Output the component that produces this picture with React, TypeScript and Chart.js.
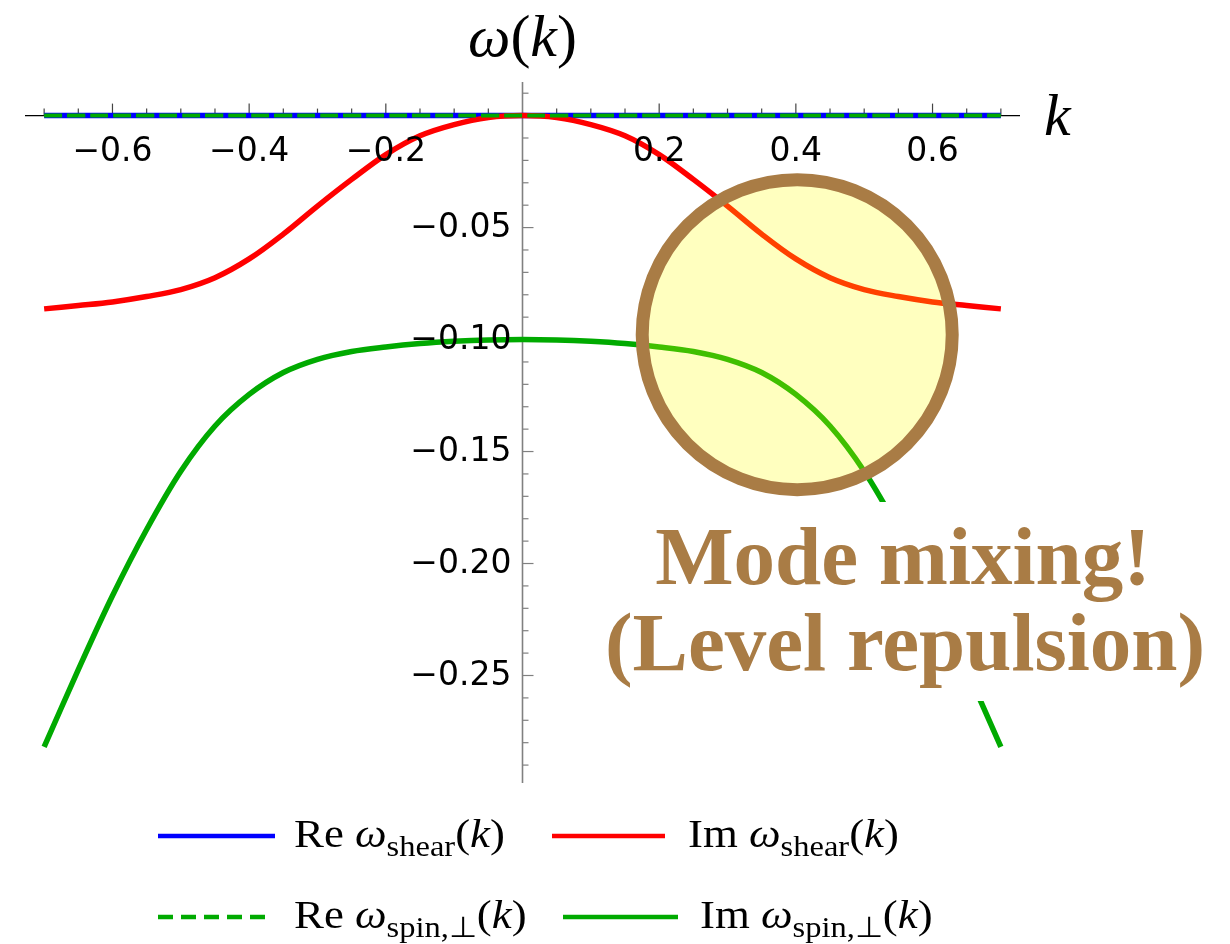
import React, { useEffect, useRef } from "react";
import { Chart, registerables } from "chart.js";

Chart.register(...registerables);

// ---------- data ----------
const kValues = [
  -0.7, -0.65, -0.6, -0.55, -0.5, -0.45, -0.4, -0.35, -0.3, -0.25, -0.2, -0.15, -0.1, -0.05, 0,
  0.05, 0.1, 0.15, 0.2, 0.25, 0.3, 0.35, 0.4, 0.45, 0.5, 0.55, 0.6, 0.65, 0.7,
];
const reShear = [
  0, 0, 0, 0, 0, 0, 0, 0, 0, 0, 0, 0, 0, 0, 0, 0, 0, 0, 0, 0, 0, 0, 0, 0, 0, 0, 0, 0, 0,
];
const imShear = [
  -0.0863, -0.0848, -0.0832, -0.0808, -0.0777, -0.0724, -0.064, -0.0529, -0.0404, -0.0285,
  -0.0174, -0.009, -0.004, -0.0009, 0, -0.0009, -0.004, -0.009, -0.0174, -0.0285, -0.0404,
  -0.0529, -0.064, -0.0724, -0.0777, -0.0808, -0.0832, -0.0848, -0.0863,
];
const reSpin = [
  0, 0, 0, 0, 0, 0, 0, 0, 0, 0, 0, 0, 0, 0, 0, 0, 0, 0, 0, 0, 0, 0, 0, 0, 0, 0, 0, 0, 0,
];
const imSpin = [
  -0.2819, -0.2474, -0.2144, -0.1848, -0.1588, -0.1386, -0.1245, -0.1147, -0.1088, -0.1053,
  -0.1033, -0.1018, -0.1008, -0.1002, -0.1, -0.1002, -0.1008, -0.1018, -0.1033, -0.1053,
  -0.1088, -0.1147, -0.1245, -0.1386, -0.1588, -0.1848, -0.2144, -0.2474, -0.2819,
];

const xTickValues = [-0.6, -0.4, -0.2, 0.2, 0.4, 0.6];
const xTickLabels = ["\u22120.6", "\u22120.4", "\u22120.2", "0.2", "0.4", "0.6"];
const yTickValues = [-0.05, -0.1, -0.15, -0.2, -0.25];
const yTickLabels = ["\u22120.05", "\u22120.10", "\u22120.15", "\u22120.20", "\u22120.25"];
const annotationLines = ["Mode mixing!", "(Level repulsion)"];
const circleCenterK = 0.402;
const circleCenterW = -0.0978;

const BLUE = "#0000FF";
const RED = "#FF0000";
const GREEN = "#00AA00";
const BROWN = "#A97C45";
const SERIF = '"Liberation Serif", "Times New Roman", serif';
const SANS = '"DejaVu Sans", Verdana, sans-serif';

type Part = [string, string, number];

function drawParts(ctx: CanvasRenderingContext2D, x: number, y: number, parts: Part[], sx = 1) {
  ctx.save();
  ctx.translate(x, y);
  ctx.scale(sx, 1);
  let cx = 0;
  for (const [t, font, dy] of parts) {
    ctx.font = font;
    ctx.fillText(t, cx, dy);
    cx += ctx.measureText(t).width;
  }
  ctx.restore();
  return x + cx * sx;
}

const MAIN = `40px ${SERIF}`;
const MAIN_I = `italic 40px ${SERIF}`;
const SUB = `29px ${SERIF}`;

function legendParts(re: boolean, sub: string): Part[] {
  return [
    [re ? "Re" : "Im", MAIN, 0],
    [" ", MAIN, 0],
    ["\u03C9", MAIN_I, 0],
    [sub, SUB, 9],
    ["(", MAIN, 0],
    ["k", MAIN_I, 0],
    [")", MAIN, 0],
  ];
}

const decorPlugin = {
  id: "decor",
  beforeDatasetsDraw(chart: any) {
    const ctx: CanvasRenderingContext2D = chart.ctx;
    const xs = chart.scales.x;
    const ys = chart.scales.y;
    const x0 = xs.getPixelForValue(0);
    const y0 = ys.getPixelForValue(0);
    ctx.save();
    // y axis
    ctx.strokeStyle = "#808080";
    ctx.lineWidth = 1.6;
    ctx.beginPath();
    ctx.moveTo(x0, ys.top);
    ctx.lineTo(x0, ys.bottom);
    ctx.stroke();
    ctx.lineWidth = 1.2;
    for (let i = -29; i <= 1; i++) {
      if (i === 0) continue;
      const y = ys.getPixelForValue(i / 100);
      const len = i % 5 === 0 ? 11 : 6;
      ctx.beginPath();
      ctx.moveTo(x0, y);
      ctx.lineTo(x0 + len, y);
      ctx.stroke();
    }
    // x axis
    ctx.strokeStyle = "#000000";
    ctx.lineWidth = 1.2;
    ctx.beginPath();
    ctx.moveTo(xs.left, y0);
    ctx.lineTo(xs.right, y0);
    ctx.stroke();
    ctx.strokeStyle = "#444444";
    for (const v of kValues) {
      if (v === 0) continue;
      const x = xs.getPixelForValue(v);
      const major = xTickValues.some((t) => Math.abs(t - v) < 1e-9);
      const len = major ? 12 : 7;
      ctx.beginPath();
      ctx.moveTo(x, y0);
      ctx.lineTo(x, y0 - len);
      ctx.stroke();
    }
    ctx.restore();
  },
  afterDatasetsDraw(chart: any) {
    const ctx: CanvasRenderingContext2D = chart.ctx;
    const xs = chart.scales.x;
    const ys = chart.scales.y;
    const x0 = xs.getPixelForValue(0);
    const y0 = ys.getPixelForValue(0);
    ctx.save();
    // tick labels
    ctx.fillStyle = "#000000";
    ctx.font = `33px ${SANS}`;
    ctx.textAlign = "center";
    ctx.textBaseline = "alphabetic";
    xTickValues.forEach((v, i) => {
      ctx.fillText(xTickLabels[i], xs.getPixelForValue(v), y0 + 45);
    });
    ctx.textAlign = "right";
    ctx.textBaseline = "middle";
    yTickValues.forEach((v, i) => {
      ctx.fillText(yTickLabels[i], x0 - 11, ys.getPixelForValue(v) + 1);
    });

    // axis titles
    ctx.textAlign = "left";
    ctx.textBaseline = "alphabetic";
    const titleParts: Part[] = [
      ["\u03C9", `italic 60px ${SERIF}`, 0],
      ["(", `60px ${SERIF}`, 0],
      ["k", `italic 60px ${SERIF}`, 0],
      [")", `60px ${SERIF}`, 0],
    ];
    let tw = 0;
    for (const [t, f] of titleParts) {
      ctx.font = f;
      tw += ctx.measureText(t).width;
    }
    drawParts(ctx, x0 - tw / 2, 56, titleParts);
    ctx.font = `italic 60px ${SERIF}`;
    ctx.fillText("k", 1044, y0 + 19);

    // circle
    const cx = xs.getPixelForValue(circleCenterK);
    const cy = ys.getPixelForValue(circleCenterW);
    ctx.beginPath();
    ctx.arc(cx, cy, 155, 0, Math.PI * 2);
    ctx.fillStyle = "rgba(255,255,0,0.25)";
    ctx.fill();
    ctx.lineWidth = 13;
    ctx.strokeStyle = BROWN;
    ctx.stroke();

    // annotation
    ctx.fillStyle = "#FFFFFF";
    ctx.fillRect(600, 502, 612, 199);
    ctx.fillStyle = BROWN;
    ctx.font = `bold 83px ${SERIF}`;
    ctx.textAlign = "center";
    ctx.fillText(annotationLines[0], 903, 584);
    ctx.fillText(annotationLines[1], 905, 670);

    // legend
    ctx.textAlign = "left";
    ctx.lineCap = "butt";
    const seg = (x1: number, x2: number, y: number, color: string, dash: number[]) => {
      ctx.save();
      ctx.strokeStyle = color;
      ctx.lineWidth = 4.5;
      ctx.setLineDash(dash);
      ctx.beginPath();
      ctx.moveTo(x1, y);
      ctx.lineTo(x2, y);
      ctx.stroke();
      ctx.restore();
    };
    seg(158, 275, 836, BLUE, []);
    seg(552, 665, 836, RED, []);
    seg(158, 268, 917, GREEN, [15, 8]);
    seg(563, 678, 917, GREEN, []);
    ctx.fillStyle = "#000000";
    const SX = 1.12;
    drawParts(ctx, 294, 847, legendParts(true, "shear"), SX);
    drawParts(ctx, 688, 847, legendParts(false, "shear"), SX);
    drawParts(ctx, 294, 928, legendParts(true, "spin,\u22A5"), SX);
    drawParts(ctx, 700, 928, legendParts(false, "spin,\u22A5"), SX);
    ctx.restore();
  },
};

function pts(ys: number[]) {
  return kValues.map((k, i) => ({ x: k, y: ys[i] }));
}

export default function App() {
  const ref = useRef<HTMLCanvasElement | null>(null);
  useEffect(() => {
    if (!ref.current) return;
    const common = {
      pointRadius: 0,
      fill: false,
      tension: 0.35,
    };
    const chart = new Chart(ref.current, {
      type: "line",
      data: {
        datasets: [
          { ...common, label: "Re ω_spin,⊥(k)", data: pts(reSpin), borderColor: GREEN, borderWidth: 4, borderDash: [18, 5], order: 1 },
          { ...common, label: "Im ω_spin,⊥(k)", data: pts(imSpin), borderColor: GREEN, borderWidth: 5.5, order: 2 },
          { ...common, label: "Im ω_shear(k)", data: pts(imShear), borderColor: RED, borderWidth: 5.5, order: 3 },
          { ...common, label: "Re ω_shear(k)", data: pts(reShear), borderColor: BLUE, borderWidth: 5.5, order: 4 },
        ],
      },
      options: {
        responsive: false,
        animation: false,
        events: [],
        layout: { padding: { left: 25, right: 210, top: 82, bottom: 161 } },
        plugins: { legend: { display: false }, tooltip: { enabled: false }, title: { display: false } },
        scales: {
          x: { type: "linear", min: -0.728, max: 0.728, display: false },
          y: { type: "linear", min: -0.298, max: 0.015, display: false },
        },
      },
      plugins: [decorPlugin],
    });
    return () => chart.destroy();
  }, []);
  return (
    <div style={{ position: "absolute", left: 0, top: 0, width: 1230, height: 944, background: "#fff" }}>
      <canvas ref={ref} width={1230} height={944} style={{ display: "block" }} />
    </div>
  );
}
